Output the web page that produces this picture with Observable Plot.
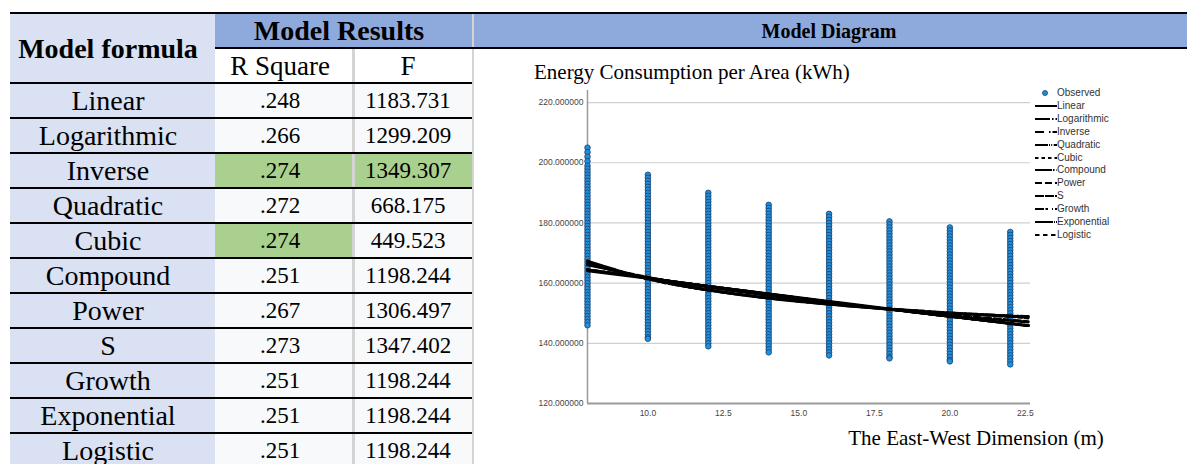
<!DOCTYPE html>
<html>
<head>
<meta charset="utf-8">
<script src="https://cdn.jsdelivr.net/npm/d3@7"></script>
<script src="https://cdn.jsdelivr.net/npm/@observablehq/plot@0.6"></script>
<style>
  html, body { margin: 0; padding: 0; background: #fff; }
  body { width: 1187px; height: 464px; position: relative; overflow: hidden; font-family: "Liberation Serif", "Times New Roman", serif; color: #000; }
  .abs { position: absolute; }
  .t { position: absolute; text-align: center; white-space: nowrap; }
</style>
</head>
<body>
<div id="chart" class="abs" style="left:474px; top:48px;"></div>
<script>
// ---------------- DATA ----------------
const models = ["Linear","Logarithmic","Inverse","Quadratic","Cubic","Compound","Power","S","Growth","Exponential","Logistic"];
const rSquare = [0.248,0.266,0.274,0.272,0.274,0.251,0.267,0.273,0.251,0.251,0.251];
const fValues = [1183.731,1299.209,1349.307,668.175,449.523,1198.244,1306.497,1347.402,1198.244,1198.244,1198.244];

const xTicks = [10,12.5,15,17.5,20,22.5];
const yTicks = [120,140,160,180,200,220];

// observed energy consumption per area, per east-west dimension
const obsX = [8,10,12,14,16,18,20,22];
const obs8  = [205,203.5,202,200.5,199,198,197,196,195,194,193,192,191,190,189,188,187,186,185,184,183,182,181,180,179,178,177,176,175,174,173,172,171,170,169,168,167,166,165,164,163,162,161,160,159,158,157,156,155,154,153,152,151,150,149,148,147,146];
const obs10 = [196,195,194,193,192,191,190,189,188,187,186,185,184,183,182,181,180,179,178,177,176,175,174,173,172,171,170,169,168,167,166,165,164,163,162,161,160,159,158,157,156,155,154,153,152,151,150,149,148,147,146,145,144,143,142,141.5];
const obs12 = [190,189,188,187,186,185,184,183,182,181,180,179,178,177,176,175,174,173,172,171,170,169,168,167,166,165,164,163,162,161,160,159,158,157,156,155,154,153,152,151,150,149,148,147,146,145,144,143,142,141,140,139];
const obs14 = [186,185,184,183,182,181,180,179,178,177,176,175,174,173,172,171,170,169,168,167,166,165,164,163,162,161,160,159,158,157,156,155,154,153,152,151,150,149,148,147,146,145,144,143,142,141,140,139,138,137];
const obs16 = [183,182,181,180,179,178,177,176,175,174,173,172,171,170,169,168,167,166,165,164,163,162,161,160,159,158,157,156,155,154,153,152,151,150,149,148,147,146,145,144,143,142,141,140,139,138,137,136];
const obs18 = [180.5,179.5,178.5,177.5,176.5,175.5,174.5,173.5,172.5,171.5,170.5,169.5,168.5,167.5,166.5,165.5,164.5,163.5,162.5,161.5,160.5,159.5,158.5,157.5,156.5,155.5,154.5,153.5,152.5,151.5,150.5,149.5,148.5,147.5,146.5,145.5,144.5,143.5,142.5,141.5,140.5,139.5,138.5,137.5,136.5,135.5,135];
const obs20 = [178.5,177.5,176.5,175.5,174.5,173.5,172.5,171.5,170.5,169.5,168.5,167.5,166.5,165.5,164.5,163.5,162.5,161.5,160.5,159.5,158.5,157.5,156.5,155.5,154.5,153.5,152.5,151.5,150.5,149.5,148.5,147.5,146.5,145.5,144.5,143.5,142.5,141.5,140.5,139.5,138.5,137.5,136.5,135.5,134.5,134];
const obs22 = [177,176,175,174,173,172,171,170,169,168,167,166,165,164,163,162,161,160,159,158,157,156,155,154,153,152,151,150,149,148,147,146,145,144,143,142,141,140,139,138,137,136,135,134,133];
const obsColumns = [obs8,obs10,obs12,obs14,obs16,obs18,obs20,obs22];

// fitted curves
const fitX = [8,10,12,14,16,18,20,22,22.6];
const fitLinear      = [164.0,161.5,159.0,156.5,154.0,151.5,149.0,146.5,145.8];
const fitLogarithmic = [166.0,161.9,158.6,155.8,153.3,151.2,149.2,147.5,147.0];
const fitInverse     = [167.0,161.4,157.7,155.0,153.0,151.5,150.2,149.2,149.0];
const fitQuadratic   = [166.5,161.6,157.9,155.1,153.0,151.3,150.0,148.9,148.6];
const fitCubic       = [167.2,161.3,157.6,155.0,153.1,151.5,150.1,148.8,148.3];
const fitCompound    = [164.5,161.7,159.0,156.4,153.8,151.3,148.9,146.6,145.9];
const fitPower       = [166.2,162.0,158.7,155.9,153.5,151.4,149.5,147.8,147.3];
const fitS           = [167.4,161.5,157.6,154.9,152.9,151.3,150.1,149.1,148.8];
const fitGrowth      = [164.5,161.7,159.0,156.4,153.8,151.3,148.9,146.6,145.9];
const fitExponential = [164.5,161.7,159.0,156.4,153.8,151.3,148.9,146.6,145.9];
const fitLogistic    = [164.5,161.7,159.0,156.4,153.8,151.3,148.9,146.6,145.9];
const fits = [fitLinear,fitLogarithmic,fitInverse,fitQuadratic,fitCubic,fitCompound,fitPower,fitS,fitGrowth,fitExponential,fitLogistic];

// ---------------- STYLES ----------------
const dashes = {
  Linear: null, Logarithmic: "15,2,1.5,2", Inverse: "9,5,1.5,2", Quadratic: "13,1,1,1.2,1,1.5",
  Cubic: "3.5,3", Compound: "17,1,1.5,2", Power: "7,3", S: "9,1", Growth: "9,1.5,2.5,4,1,2",
  Exponential: "18,1,1,1", Logistic: "4.5,3.5"
};
const C = { side: "#D9E1F2", band: "#8EA9DB", cell: "#F8F9FB", green: "#A9D08E", sep: "#D4D4D4" };

// ---------------- TABLE ----------------
const body = document.body;
function box(l, t, w, h, bg) {
  const d = document.createElement("div");
  d.className = "abs";
  Object.assign(d.style, {left: l + "px", top: t + "px", width: w + "px", height: h + "px", background: bg});
  body.appendChild(d);
  return d;
}
function text(cx, cy, str, css) {
  const d = document.createElement("div");
  d.className = "t";
  Object.assign(d.style, {left: (cx - 200) + "px", top: (cy - 20) + "px", width: "400px", height: "40px", lineHeight: "40px"}, css || {});
  d.textContent = str;
  body.appendChild(d);
  return d;
}
const rowTop = 83, rowH = 35;
const colL = 10, colR2 = 215, colSep = 352, colF = 354, colEnd = 473;
const maxR = d3.max(rSquare), maxF = d3.max(fValues);

box(colL, 13, colR2 - colL, 70, C.side);
box(colR2, 13, colEnd - colR2, 35, C.band);
box(474, 13, 1187 - 474, 35, C.band);
box(colR2, 48, colSep - colR2, 35, "#fff");
box(colF, 48, colEnd - colF, 35, "#fff");

models.forEach((m, i) => {
  const t = rowTop + i * rowH;
  box(colL, t, colR2 - colL, rowH, C.side);
  box(colR2, t, colSep - colR2, rowH, rSquare[i] === maxR ? C.green : C.cell);
  box(colF, t, colEnd - colF, rowH, fValues[i] === maxF ? C.green : C.cell);
});
// separators
box(colSep, 48, 2.5, 464 - 48, C.sep);
box(471.5, 13, 2.5, 464 - 13, C.sep);
box(colL, 12, 1187 - colL, 2, "#000");
box(colR2, 47, 1187 - colR2, 2, "#000");
for (let i = 0; i <= models.length - 1; i++) box(colL, rowTop + i * rowH - 1, colEnd - colL - 1, 2, "#000");

// header texts
text(108, 49, "Model formula", {fontWeight: "bold", fontSize: "28px"});
text(339, 31, "Model Results", {fontWeight: "bold", fontSize: "28px"});
text(280, 66, "R Square", {fontSize: "27px"});
text(408, 66, "F", {fontSize: "27px"});
text(829, 31, "Model Diagram", {fontWeight: "bold", fontSize: "20px"});
models.forEach((m, i) => {
  const cy = rowTop + i * rowH + rowH / 2 + 0.5;
  text(108, cy, m, {fontSize: "28px"});
  text(280, cy, rSquare[i].toFixed(3).replace(/^0/, ""), {fontSize: "23px"});
  text(408, cy, fValues[i].toFixed(3), {fontSize: "23px"});
});

// axis titles
const yt = document.createElement("div");
yt.className = "abs";
Object.assign(yt.style, {left: "534px", top: "60px", lineHeight: "24px", fontSize: "21px", whiteSpace: "nowrap"});
yt.textContent = "Energy Consumption per Area (kWh)";
body.appendChild(yt);
text(976, 438, "The East-West Dimension (m)", {fontSize: "21px"});

// ---------------- CHART ----------------
const obsData = obsColumns.flatMap((col, j) => col.map(v => ({x: obsX[j], y: v})));
const lineMarks = models.map((m, i) => Plot.line(fitX.map((x, k) => ({x, y: fits[i][k]})), {
  x: "x", y: "y", stroke: "#000", strokeWidth: 2.4, curve: "natural",
  strokeDasharray: dashes[m] || undefined
}));

const chart = Plot.plot({
  width: 713, height: 416,
  marginLeft: 113, marginRight: 157, marginTop: 42, marginBottom: 61,
  style: {background: "transparent", fontFamily: "'Liberation Sans', Arial, sans-serif", fontSize: "8.5px", color: "#444", overflow: "visible"},
  x: {domain: [8, 22.67], ticks: xTicks, tickFormat: d => d.toFixed(1), tickSize: 0, tickPadding: 6, label: null},
  y: {domain: [120, 224], ticks: yTicks, tickFormat: d => d.toFixed(6), tickSize: 0, tickPadding: 4, label: null},
  marks: [
    Plot.ruleY(yTicks, {stroke: "#cfcfcf", strokeWidth: 1.2}),
    Plot.ruleX([8], {stroke: "#9a9a9a", strokeWidth: 1.5}),
    Plot.ruleY([120], {stroke: "#9a9a9a", strokeWidth: 2}),
    Plot.dot(obsData, {x: "x", y: "y", r: 2.8, fill: "#1E8FE1", stroke: "#1d3f63", strokeWidth: 0.8}),
    ...lineMarks
  ]
});
document.getElementById("chart").appendChild(chart);

// ---------------- LEGEND ----------------
const legendItems = ["Observed", ...models];
legendItems.forEach((name, i) => {
  const cy = 93.3 + i * 12.85;
  const row = document.createElement("div");
  row.className = "abs";
  Object.assign(row.style, {left: "1034px", top: (cy - 6) + "px", height: "12px", lineHeight: "12px",
    fontFamily: "'Liberation Sans', Arial, sans-serif", fontSize: "10px", color: "#333", whiteSpace: "nowrap", display: "flex", alignItems: "center"});
  const ns = "http://www.w3.org/2000/svg";
  const svg = document.createElementNS(ns, "svg");
  svg.setAttribute("width", "23"); svg.setAttribute("height", "12");
  if (name === "Observed") {
    const c = document.createElementNS(ns, "circle");
    c.setAttribute("cx", "11"); c.setAttribute("cy", "6"); c.setAttribute("r", "2.5");
    c.setAttribute("fill", "#1E8FE1"); c.setAttribute("stroke", "#1d3f63"); c.setAttribute("stroke-width", "0.8");
    svg.appendChild(c);
  } else {
    const l = document.createElementNS(ns, "line");
    l.setAttribute("x1", "1"); l.setAttribute("x2", "23"); l.setAttribute("y1", "6"); l.setAttribute("y2", "6");
    l.setAttribute("stroke", "#000"); l.setAttribute("stroke-width", "2");
    if (dashes[name]) l.setAttribute("stroke-dasharray", dashes[name]);
    svg.appendChild(l);
  }
  row.appendChild(svg);
  const s = document.createElement("span");
  s.textContent = name;
  row.appendChild(s);
  body.appendChild(row);
});
</script>
</body>
</html>
